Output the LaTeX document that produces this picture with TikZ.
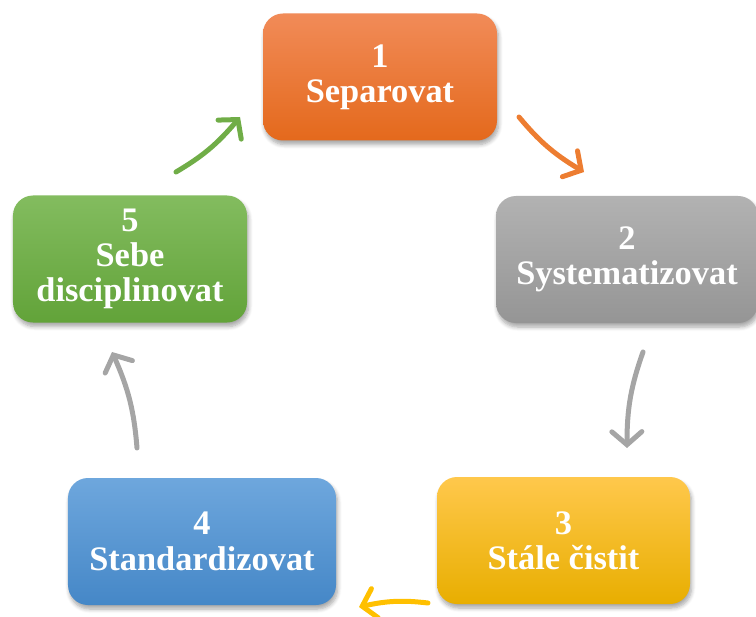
\documentclass[tikz,border=0pt]{standalone}
\usepackage{fontspec}
\setmainfont{Liberation Serif}
\usetikzlibrary{arrows.meta,shadows.blur,bending}
\definecolor{orT}{HTML}{F18B58}
\definecolor{orB}{HTML}{E4691C}
\definecolor{orA}{HTML}{ED7D31}
\definecolor{grT}{HTML}{B2B2B2}
\definecolor{grB}{HTML}{959595}
\definecolor{grA}{HTML}{A5A5A5}
\definecolor{goT}{HTML}{FFC84C}
\definecolor{goM}{HTML}{FFC000}
\definecolor{goB}{HTML}{E8AE00}
\definecolor{goA}{HTML}{FFC000}
\definecolor{blT}{HTML}{6EA7DD}
\definecolor{blB}{HTML}{4587C7}
\definecolor{grnT}{HTML}{83BC5F}
\definecolor{grnB}{HTML}{62A339}
\definecolor{grnA}{HTML}{70AD47}
\begin{document}
\begin{tikzpicture}[x=1bp,y=-1bp,
  box/.style={rounded corners=20bp, minimum height=127bp, align=center,
    text=white, font=\fontsize{34.5}{35.5}\selectfont\bfseries, inner sep=0pt,
    blur shadow={shadow xshift=1.5bp, shadow yshift=-4bp, shadow blur steps=6,
      shadow opacity=35, shadow blur radius=4bp}},
  arr/.style={line width=5bp, line cap=round,
    -{Straight Barb[length=13bp,width=30bp,line cap=round]}}
]
\useasboundingbox (0,0) rectangle (756,617);

\node[box, minimum width=234bp, top color=orT, bottom color=orB] (b1) at (380,77) {1\\Separovat};
\node[box, minimum width=262bp, top color=grT, bottom color=grB] (b2) at (627,259.5) {2\\Systematizovat};
\node[box, minimum width=253bp, top color=goT, middle color=goM, bottom color=goB] (b3) at (563.5,540.5) {3\\Stále čistit};
\node[box, minimum width=268bp, top color=blT, bottom color=blB] (b4) at (202,541.5) {4\\Standardizovat};
\node[box, minimum width=234bp, top color=grnT, bottom color=grnB] (b5) at (130,259) {5\\Sebe\\disciplinovat};

\coordinate (g1) at (176,172); \coordinate (g2) at (240,117);
\coordinate (o1) at (519,117); \coordinate (o2) at (584,172);
\coordinate (r1) at (643,352); \coordinate (r2) at (627,448);
\coordinate (y1) at (428,603); \coordinate (y2) at (359,607);
\coordinate (l1) at (137,448); \coordinate (l2) at (112,352);

\draw[arr, grnA] (g1) to[bend right=10] (g2);
\draw[arr, orA] (o1) to[bend right=10] (o2);
\draw[arr, grA] (r1) to[bend right=10] (r2);
\draw[arr, goA] (y1) to[bend right=10] (y2);
\draw[arr, grA] (l1) to[bend right=10] (l2);
\end{tikzpicture}
\end{document}
